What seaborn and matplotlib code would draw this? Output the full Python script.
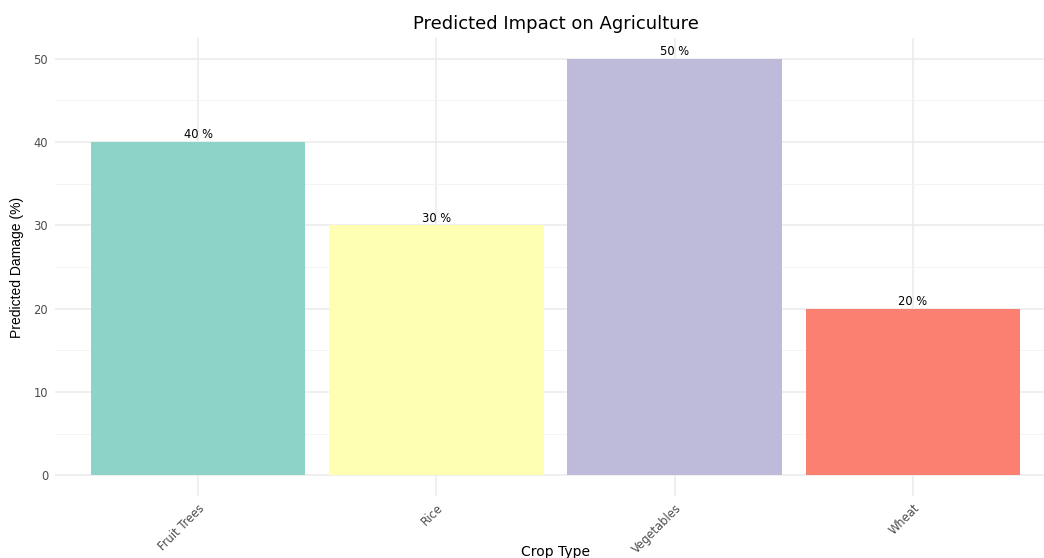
import matplotlib
matplotlib.use("Agg")
import matplotlib.pyplot as plt
import seaborn as sns
import pandas as pd
from matplotlib.ticker import MultipleLocator

crops = ["Fruit Trees", "Rice", "Vegetables", "Wheat"]
damage = [40, 30, 50, 20]
colors = ["#8DD3C7", "#FFFFB3", "#BEBADA", "#FB8072"]

df = pd.DataFrame({"Crop": crops, "Damage": damage})

sns.set_theme(style="white")
plt.rcParams["font.family"] = ["DejaVu Sans"]

fig = plt.figure(figsize=(10.44, 5.58), dpi=100)
ax = fig.add_axes([0.0527, 0.1111, 0.9588, 0.8208])

sns.barplot(data=df, x="Crop", y="Damage", hue="Crop", palette=colors,
            order=crops, hue_order=crops, legend=False, width=0.9,
            saturation=1, ax=ax, zorder=2, edgecolor="none")

for cont, v in zip(ax.containers, damage):
    ax.bar_label(cont, labels=[f"{v} %"], padding=0.5, fontsize=8.3, color="black")

ax.set_xlim(-0.6, 3.6)
ax.set_ylim(-2.5, 52.5)
ax.yaxis.set_major_locator(MultipleLocator(10))
ax.yaxis.set_minor_locator(MultipleLocator(5))
ax.grid(True, which="major", color="#EBEBEB", linewidth=1.1, zorder=0)
ax.grid(True, which="minor", axis="y", color="#F2F2F2", linewidth=0.6, zorder=0)
ax.set_axisbelow(True)
for s in ax.spines.values():
    s.set_visible(False)

ax.tick_params(axis="both", which="both", length=0, labelsize=8.3, labelcolor="#4D4D4D")
ax.tick_params(axis="y", pad=5)
ax.tick_params(axis="x", pad=4)
plt.setp(ax.get_xticklabels(), rotation=45, ha="right", rotation_mode="anchor")

ax.set_title("Predicted Impact on Agriculture", fontsize=13, color="black", pad=6.5)
ax.set_ylabel("Predicted Damage (%)", fontsize=10, color="black",
              family=["Liberation Sans", "DejaVu Sans"])
ax.yaxis.set_label_coords(-0.038, 0.5)
ax.yaxis.label.set_va("center")
ax.set_xlabel("Crop Type", fontsize=10, color="black")
ax.xaxis.set_label_coords(0.5, -0.108)
ax.xaxis.label.set_va("top")

fig.savefig("out.png", dpi=100)
